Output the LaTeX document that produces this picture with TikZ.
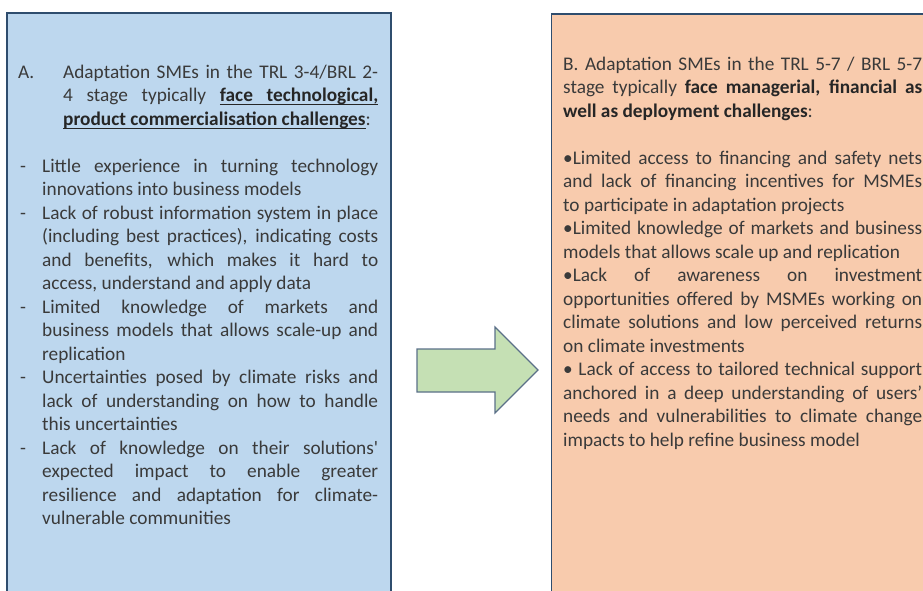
\documentclass[tikz,border=0pt]{standalone}
\usepackage{fontspec}
\setmainfont{Carlito}

\definecolor{panelblue}{HTML}{BDD7EE}
\definecolor{panelpeach}{HTML}{F8CBAD}
\definecolor{arrowgreen}{HTML}{C5E0B4}
\definecolor{edgeblue}{HTML}{2F4D6E}
\definecolor{arrowedge}{HTML}{5B7088}
\definecolor{txtgray}{HTML}{3A3A3A}

\newcommand{\dashitem}{\par\noindent\hangindent=24pt\hangafter=1\makebox[24pt][l]{\hspace{2pt}-}}
% underlined word and underlined (stretchable) space
\newcommand{\ulw}[1]{\setbox0\hbox{#1}\rlap{\rule[-3.8pt]{\wd0}{1.2pt}}\box0}
\newcommand{\uls}{\leaders\hrule height -2.6pt depth 3.8pt\hskip\fontdimen2\font plus\fontdimen3\font minus\fontdimen4\font}

\begin{document}
\begin{tikzpicture}[x=1pt,y=-1pt,
  panel/.style={draw=edgeblue,line width=1.2pt},
  bodytext/.style={anchor=north west,inner sep=0pt,align=justify,text=txtgray,
    font=\fontsize{19.3pt}{23.5pt}\selectfont}]
\useasboundingbox (0,0) rectangle (923,590);
\clip (0,0) rectangle (923,590);

\draw[panel,fill=panelblue]  (7,13)  rectangle  (391,600);
\draw[panel,fill=panelpeach]  (551.5,14)  rectangle  (940,600);

\draw[draw=arrowedge,fill=arrowgreen,line width=1.1pt]  (417,349) -- (495,349) -- (495,327)
  -- (538,370) -- (495,413) -- (495,392) -- (417,392) -- cycle;

\node [bodytext,text width=360pt] (challengesA) at (18,61.5) {%
\strut\hangindent=45pt\hangafter=1\makebox[45pt][l]{A.}Adaptation SMEs in the TRL 3-4/BRL 2-\linebreak
4 stage typically \textbf{\color{black!85}\ulw{face}\uls\ulw{technological,}}\linebreak
\textbf{\color{black!85}\ulw{product}\uls\ulw{commercialisation}\uls\ulw{challenges}}:\par
\vspace{23.5pt}
\dashitem Little experience in turning technology\linebreak
innovations into business models
\dashitem Lack of robust information system in place\linebreak
(including best practices), indicating costs\linebreak
and benefits, which makes it hard to\linebreak
access, understand and apply data
\dashitem Limited knowledge of markets and\linebreak
business models that allows scale-up and\linebreak
replication
\dashitem Uncertainties posed by climate risks and\linebreak
lack of understanding on how to handle\linebreak
this uncertainties
\dashitem Lack of knowledge on their solutions\textquotesingle\linebreak
expected impact to enable greater\linebreak
resilience and adaptation for climate-\linebreak
vulnerable communities\par};

\node [bodytext,text width=359pt] (challengesB) at (563,53.5) {%
\strut B. Adaptation SMEs in the TRL 5-7 / BRL 5-7\linebreak
stage typically \textbf{\color{black!85}face managerial, financial as}\linebreak
\textbf{\color{black!85}well as deployment challenges}:\par
\vspace{23.5pt}
•Limited access to financing and safety nets\linebreak
and lack of financing incentives for MSMEs\linebreak
to participate in adaptation projects\par
•Limited knowledge of markets and business\linebreak
models that allows scale up and replication\par
•Lack of awareness on investment\linebreak
opportunities offered by MSMEs working on\linebreak
climate solutions and low perceived returns\linebreak
on climate investments\par
• Lack of access to tailored technical support\linebreak
anchored in a deep understanding of users’\linebreak
needs and vulnerabilities to climate change\linebreak
impacts to help refine business model\par};

\end{tikzpicture}
\end{document}
